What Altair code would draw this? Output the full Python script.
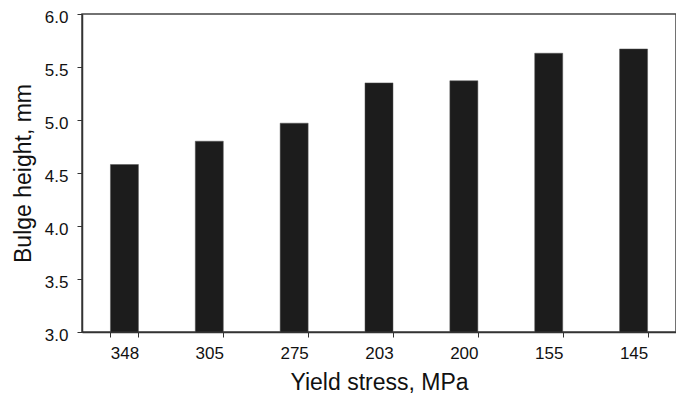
import altair as alt
import pandas as pd

stress = ["348", "305", "275", "203", "200", "155", "145"]
bulge = [4.58, 4.80, 4.97, 5.35, 5.37, 5.63, 5.67]

df = pd.DataFrame({"stress": stress, "bulge": bulge})

font = "Liberation Sans"

chart = alt.Chart(df).mark_bar(color="#1c1c1c", stroke="#555555", strokeWidth=0.5, clip=True).encode(
    x=alt.X("stress:N", sort=stress,
            scale=alt.Scale(paddingInner=0.67, paddingOuter=0.335),
            axis=alt.Axis(title="Yield stress, MPa", labelAngle=0, tickBand="extent",
                          labelFontSize=17, titleFontSize=23, labelPadding=8, titlePadding=10,
                          titleFontWeight="normal", labelColor="#111", titleColor="#111",
                          domainColor="#333", tickColor="#333", tickSize=5, domainWidth=1.5,
                          labelFont=font, titleFont=font)),
    y=alt.Y("bulge:Q", scale=alt.Scale(domain=[3.0, 6.0], zero=False, nice=False),
            axis=alt.Axis(title="Bulge height, mm", values=[3.0, 3.5, 4.0, 4.5, 5.0, 5.5, 6.0],
                          format=".1f", grid=False, labelFontSize=17, titleFontSize=23,
                          labelPadding=9, titlePadding=9, titleFontWeight="normal",
                          labelOffset=3,
                          labelColor="#111", titleColor="#111", domainColor="#333",
                          tickColor="#333", tickSize=5, domainWidth=1.5,
                          labelFont=font, titleFont=font)),
    y2=alt.datum(3.0),
).properties(
    width=594, height=318,
    autosize=alt.AutoSizeParams(type="none"),
    padding={"left": 74, "top": 6, "right": 0, "bottom": 68},
).configure_view(stroke="#444", strokeWidth=1.5)

chart.save("out.html", embed_options={"renderer": "svg", "actions": False})
